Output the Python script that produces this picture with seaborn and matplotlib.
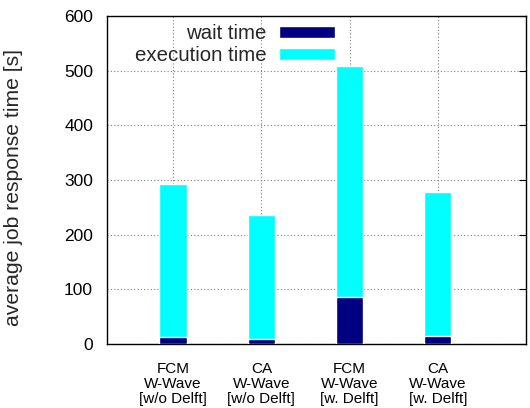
import matplotlib
matplotlib.use("Agg")
import matplotlib.pyplot as plt
import seaborn as sns
import pandas as pd

# Data
categories = ["FCM\nW-Wave\n[w/o Delft]", "CA\nW-Wave\n[w/o Delft]",
              "FCM\nW-Wave\n[w. Delft]", "CA\nW-Wave\n[w. Delft]"]
wait_time = [12, 10, 86, 14]
total_time = [292, 236, 508, 278]
y_ticks = [0, 100, 200, 300, 400, 500, 600]

df = pd.DataFrame({"config": categories, "wait": wait_time, "total": total_time})

sns.set_style("white")
plt.rcParams["font.family"] = ["Liberation Sans", "DejaVu Sans"]

fig = plt.figure(figsize=(5.30, 4.08), dpi=100)
ax = fig.add_axes([107 / 530, 64 / 408, 419 / 530, 328 / 408])

navy = "#000080"
cyan = "#00ffff"

sns.barplot(data=df, x="config", y="total", color=cyan, width=0.31,
            saturation=1, ax=ax, label="execution time", zorder=2)
sns.barplot(data=df, x="config", y="wait", color=navy, width=0.31,
            saturation=1, ax=ax, label="wait time", zorder=3)

ax.set_xlim(-0.75, 4)
ax.set_ylim(0, 600)
ax.set_yticks(y_ticks)
ax.set_xticks([0, 1, 2, 3, 4])
ax.set_xticklabels(categories + [""], fontsize=11, linespacing=1.1)
ax.tick_params(axis="x", direction="out", length=5, width=0.8, pad=8, colors="black")
ax.tick_params(axis="y", direction="in", length=5, width=0.8, pad=10,
               labelsize=12.5, right=True, colors="black")
ax.set_xlabel("")
ax.set_ylabel("average job response time [s]", fontsize=15.2)
ax.yaxis.set_label_coords(-0.2, 0.476)

ax.grid(True, linestyle=(0, (1, 2)), color="#808080", linewidth=0.8, zorder=0)
ax.set_axisbelow(True)
for s in ax.spines.values():
    s.set_color("black")
    s.set_linewidth(1.0)

handles, labels = ax.get_legend_handles_labels()
order = [labels.index("wait time"), labels.index("execution time")]
leg = ax.legend([handles[i] for i in order], [labels[i] for i in order],
                loc="upper right", bbox_to_anchor=(0.544, 0.975), frameon=False,
                markerfirst=False, fontsize=14.7, handlelength=2.75, handleheight=0.5,
                handletextpad=0.6, labelspacing=0.15, borderaxespad=0, borderpad=0)

fig.savefig("out.png", dpi=100)
